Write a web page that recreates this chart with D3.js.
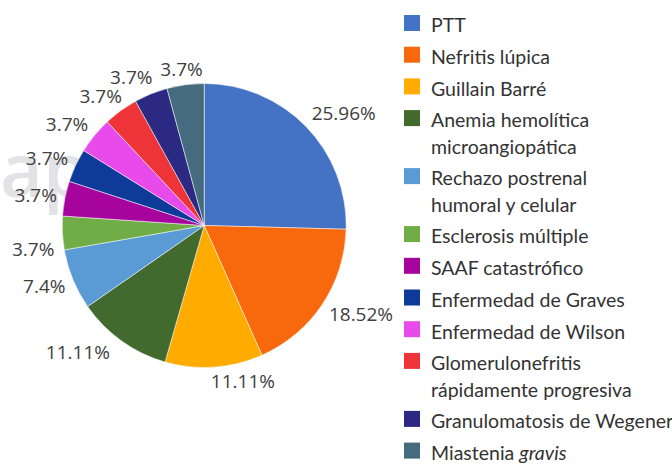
<!DOCTYPE html>
<html><head><meta charset="utf-8">
<script src="https://cdn.jsdelivr.net/npm/d3@7"></script>
<style>html,body{margin:0;padding:0;background:#fff;}svg{display:block;}</style>
</head><body>
<svg id="chart" width="672" height="465"></svg>
<script>
// ---- data ----
const categories = [
  "PTT", "Nefritis lúpica", "Guillain Barré", "Anemia hemolítica|microangiopática",
  "Rechazo postrenal|humoral y celular", "Esclerosis múltiple", "SAAF catastrófico",
  "Enfermedad de Graves", "Enfermedad de Wilson", "Glomerulonefritis|rápidamente progresiva",
  "Granulomatosis de Wegener", "Miastenia _gravis_"
];
// slice shares as drawn in the picture (%)
const sliceShare = [25.42, 17.92, 11.11, 10.89, 6.92, 3.81, 3.97, 3.83, 4.17, 3.94, 3.81, 4.22];
// printed data labels
const pctLabels = ["25.96%", "18.52%", "11.11%", "11.11%", "7.4%", "3.7%", "3.7%", "3.7%", "3.7%", "3.7%", "3.7%", "3.7%"];
const colors = ["#4472C4", "#F8680C", "#FFAB00", "#436A2E", "#5B9BD5", "#70AD47",
  "#A6049C", "#0E3A9A", "#E94AEB", "#EE3339", "#2B2981", "#456C7E"];
// manual label nudges (as in the original, where some labels were moved)
const labelNudge = {2: [26, -2], 3: [-16, -3], 5: [0, 15], 10: [-8, -1]};

// ---- layout ----
const svg = d3.select("#chart");
const cx = 204.2, cy = 225.5, R = 142;

// faint watermark behind the pie
svg.append("text").attr("x", 0).attr("y", 197)
  .attr("font-family", "Open Sans, sans-serif").attr("font-weight", 600)
  .attr("font-size", 74).attr("fill", "#e3e3e7").text("aph");

const pie = d3.pie().sort(null).value(d => d).startAngle(0).endAngle(2 * Math.PI);
const arcs = pie(sliceShare);
const arc = d3.arc().innerRadius(0).outerRadius(R);

const g = svg.append("g").attr("transform", `translate(${cx},${cy})`);
g.selectAll("path.slice").data(arcs).enter().append("path")
  .attr("class", "slice")
  .attr("d", arc)
  .attr("fill", (d, i) => colors[i])
  .attr("stroke", "#ffffff").attr("stroke-width", 0.5);

// data labels, Excel "outside end" style
const fs = 19, gap = 8;
g.selectAll("text.lbl").data(arcs).enter().append("text")
  .attr("class", "lbl")
  .attr("font-family", "Open Sans, sans-serif").attr("font-size", fs)
  .attr("fill", "#404040").attr("text-anchor", "middle")
  .text((d, i) => pctLabels[i])
  .each(function (d, i) {
    const w = this.getComputedTextLength(), h = 16;
    const a = (d.startAngle + d.endAngle) / 2;
    const s = Math.sin(a), c = Math.cos(a);
    const m = Math.max(Math.abs(s), Math.abs(c));
    let x = (R + gap) * s + (w / 2) * s / m;
    let y = -(R + gap) * c - (h / 2) * c / m;
    const n = labelNudge[i] || [0, 0];
    x += n[0]; y += n[1];
    d3.select(this).attr("x", x).attr("y", y + 0.36 * fs);
  });

// legend
const legX = 404, textX = 431, firstBase = 32.3, step = 31.7, extra = 26.3;
const leg = svg.append("g").attr("font-family", "Lato, sans-serif").attr("font-size", 19.5).attr("fill", "#333333");
let extraLines = 0;
categories.forEach((name, i) => {
  const lines = name.split("|");
  const base = firstBase + step * i + extra * extraLines;
  leg.append("rect").attr("x", legX).attr("y", base - 17.3).attr("width", 16).attr("height", 16)
    .attr("fill", colors[i]);
  lines.forEach((ln, j) => {
    const t = leg.append("text").attr("x", textX).attr("y", base + j * extra);
    ln.split(/(_[^_]+_)/).filter(s => s.length).forEach(seg => {
      const it = /^_.*_$/.test(seg);
      t.append("tspan").attr("font-style", it ? "italic" : null).text(it ? seg.slice(1, -1) : seg);
    });
  });
  extraLines += lines.length - 1;
});
</script>
</body></html>
